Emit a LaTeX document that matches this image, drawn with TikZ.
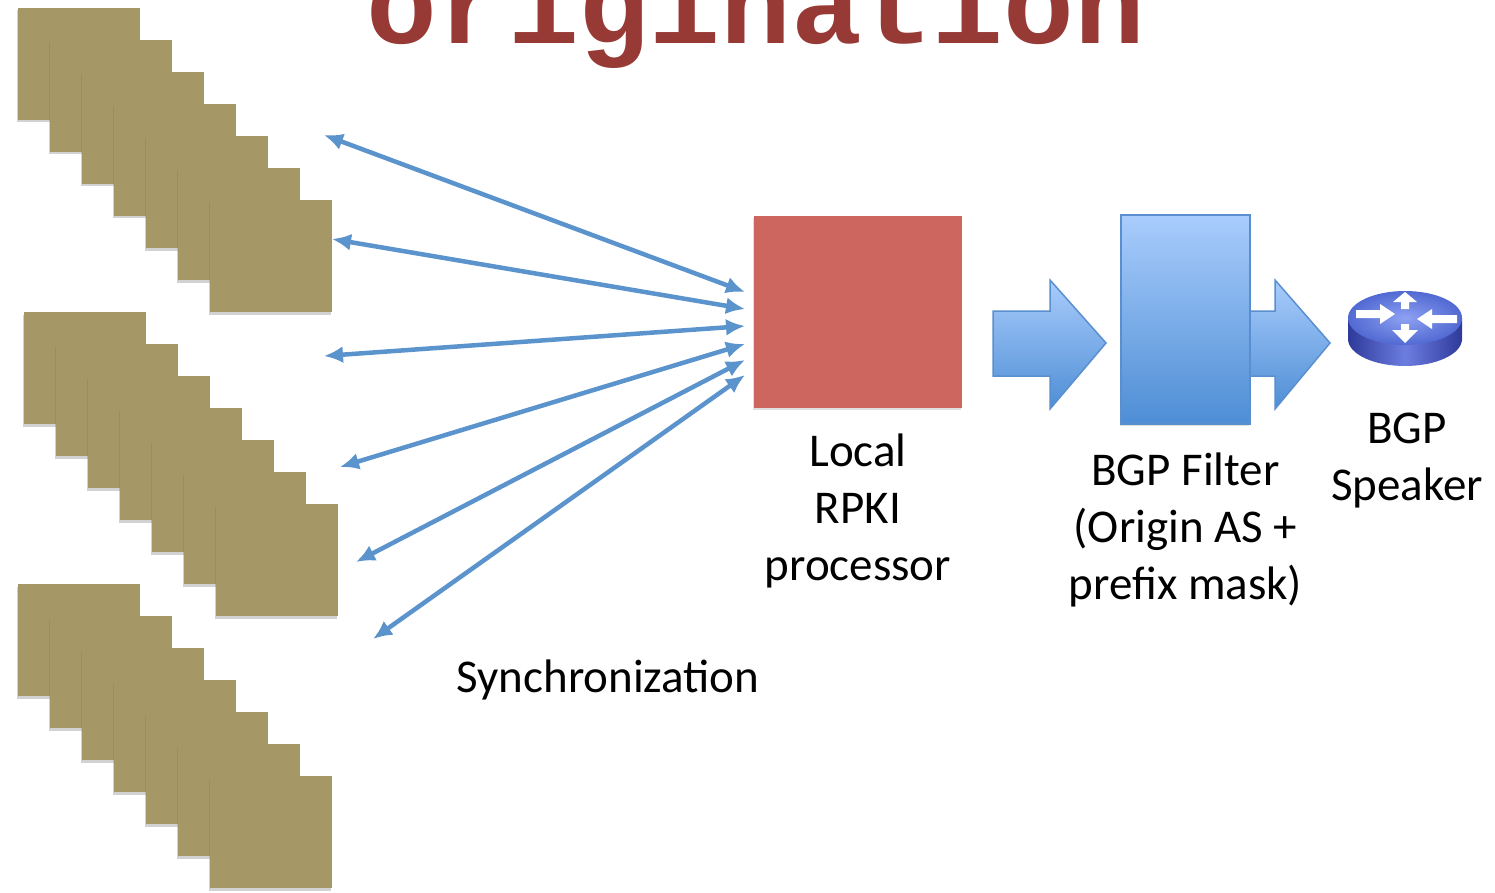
\documentclass[tikz,border=0pt]{standalone}
\usepackage{fontspec}
\setmainfont{Carlito}
\newfontfamily\typefont{Liberation Mono}
\usepackage{xcolor}
\usetikzlibrary{arrows.meta}
\usetikzlibrary{positioning}
\usetikzlibrary{shadows}

\definecolor{cardcol}{HTML}{A59766}
\definecolor{rpkired}{HTML}{CC665F}
\definecolor{syncblue}{HTML}{5B93CD}
\definecolor{filtertop}{HTML}{A9CCFC}
\definecolor{filterbot}{HTML}{4E8ED5}
\definecolor{filteredge}{HTML}{5A8FCF}
\definecolor{titlered}{HTML}{973A36}
\definecolor{routerlight}{HTML}{8EA1F2}
\definecolor{routertop}{HTML}{5169D2}
\definecolor{routerdark}{HTML}{2E3A9A}
\definecolor{routermid}{HTML}{6C7DE0}

\begin{document}
\begin{tikzpicture}[x=1pt,y=-1pt,
    card/.style={fill=cardcol,drop shadow={shadow xshift=-1.5pt,shadow yshift=-2.5pt,opacity=.35}},
    sync/.style={draw=syncblue,line width=4.5pt,{Latex[length=19pt,width=17pt]}-{Latex[length=19pt,width=17pt]}},
    blockarrow/.style={top color=filtertop,bottom color=filterbot,draw=filteredge,line width=1.5pt},
    lbl/.style={font=\fontsize{47}{57}\selectfont,align=center,inner sep=0}]
	\clip (0,0) rectangle (1495,893);
	\fill[white] (0,0) rectangle (1495,893);

	% title, cut off at the top
	\node[font=\typefont\bfseries\fontsize{118}{120}\selectfont,text=titlered,inner sep=0,anchor=base] (title) at (756,44) {origination};

	% three stacks of repositories
	\foreach \sx/\sy in {18/8, 24/312, 18/584}
		\foreach \i in {0,...,6}
			\fill[card] (\sx+32*\i,\sy+32*\i) rectangle ++(122,112);

	% local processor
	\node[fill=rpkired,minimum width=208pt,minimum height=192pt,inner sep=0,
		drop shadow={shadow xshift=-1pt,shadow yshift=-2pt,opacity=.25}] (rpki) at (858,312) {};
	\node[lbl,below=25pt of rpki] (rpkilabel) {Local\\RPKI\\processor};

	% synchronization arrows
	\foreach \i/\lx/\ly/\ry in {1/324/135/292, 2/332/239/309, 3/324/356/326, 4/340/467/344, 5/356/562/360, 6/373/639/375} {
		\coordinate (l\i) at (\lx,\ly);
		\coordinate (r\i) at (745,\ry);
		\draw[sync] (l\i) -- (r\i);
	}
	\node[lbl,anchor=base] (synclabel) at (608,692) {Synchronization};

	% block arrows and filter
	\draw[blockarrow] (993,311) -- (1050,311) -- (1050,280) -- (1106,343) -- (1050,409) -- (1050,376) -- (993,376) -- cycle;
	\draw[blockarrow] (1230,311) -- (1275,311) -- (1275,280) -- (1330,343) -- (1275,409) -- (1275,376) -- (1230,376) -- cycle;
	\node[blockarrow,minimum width=129pt,minimum height=209pt,inner sep=0,
		drop shadow={shadow xshift=-1pt,shadow yshift=-2pt,opacity=.25}] (filter) at (1185.5,319.5) {};
	\node[lbl,below=28pt of filter] (filterlabel) {BGP Filter\\(Origin AS +\\prefix mask)};

	% router
	\shade[left color=routerdark,right color=routerdark,middle color=routermid] (1405,339) ellipse [x radius=57,y radius=27];
	\shade[left color=routerdark,right color=routerdark,middle color=routermid] (1348,318) rectangle (1462,339);
	\shade[inner color=routerlight,outer color=routertop] (1405,318) ellipse [x radius=57,y radius=27];
	\fill[white] (1356,310) -- (1380,310) -- (1380,304) -- (1395,314) -- (1380,324) -- (1380,318) -- (1356,318) -- cycle;
	\fill[white] (1457,315) -- (1432,315) -- (1432,309) -- (1417,319) -- (1432,329) -- (1432,323) -- (1457,323) -- cycle;
	\fill[white] (1405,292) -- (1417,302) -- (1409,302) -- (1409,309) -- (1401,309) -- (1401,302) -- (1393,302) -- cycle;
	\fill[white] (1401,324) -- (1409,324) -- (1409,330) -- (1418,330) -- (1405,343) -- (1392,330) -- (1401,330) -- cycle;
	\coordinate (router) at (1407,366);
	\node[lbl,below=47pt of router] (speaker) {BGP\\Speaker};
\end{tikzpicture}
\end{document}
